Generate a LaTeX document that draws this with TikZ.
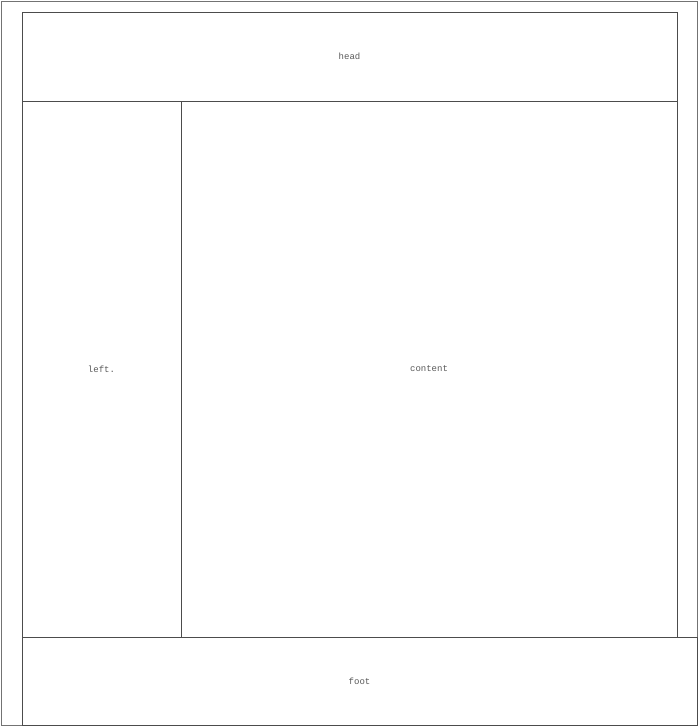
\documentclass[tikz,border=0pt]{standalone}
\usepackage{fontspec}
\setmainfont{Liberation Mono}
\begin{document}
\begin{tikzpicture}[x=1pt,y=-1pt,
  box/.style={draw=black!70,line width=0.9pt,inner sep=0pt,text=black!65,font=\fontsize{9}{10}\selectfont},
]
\useasboundingbox (0,0) rectangle (700,728);
\node[box,draw=black!55,minimum width=696pt,minimum height=724pt] (outer) at (349.5,363.5) {};
\node[box,minimum width=655pt,minimum height=89pt] (head) at (349.5,56.5) {head};
\node[box,minimum width=159pt,minimum height=536pt] (left) at (101.5,369) {left.};
\node[box,minimum width=496pt,minimum height=536pt] (content) at (429,369) {content};
\node[box,minimum width=675pt,minimum height=88pt] (foot) at (359.5,681) {foot};
\end{tikzpicture}
\end{document}
